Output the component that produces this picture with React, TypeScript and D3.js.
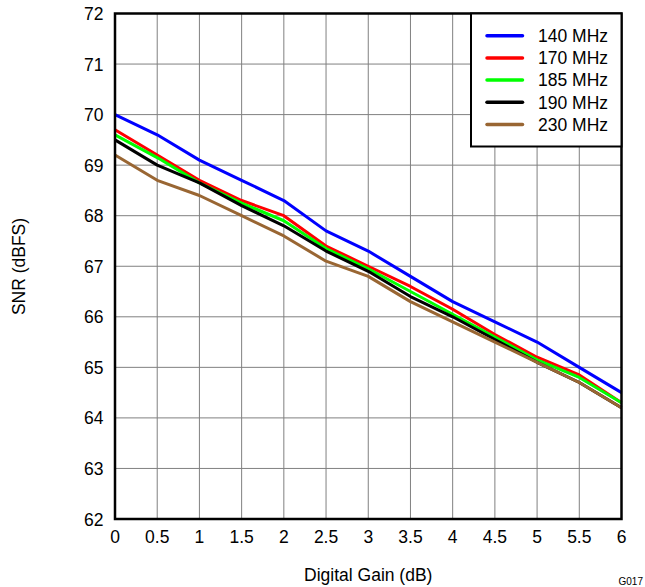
import React from "react";
import * as d3 from "d3";

const gains = [0, 0.5, 1, 1.5, 2, 2.5, 3, 3.5, 4, 4.5, 5, 5.5, 6];
const xTicks = [0, 0.5, 1, 1.5, 2, 2.5, 3, 3.5, 4, 4.5, 5, 5.5, 6];
const yTicks = [62, 63, 64, 65, 66, 67, 68, 69, 70, 71, 72];

const snr140 = [70.0, 69.6, 69.1, 68.7, 68.3, 67.7, 67.3, 66.8, 66.3, 65.9, 65.5, 65.0, 64.5];
const snr170 = [69.7, 69.2, 68.7, 68.3, 68.0, 67.4, 67.0, 66.6, 66.15, 65.65, 65.2, 64.85, 64.3];
const snr185 = [69.6, 69.15, 68.65, 68.25, 67.9, 67.35, 66.95, 66.5, 66.05, 65.6, 65.15, 64.8, 64.3];
const snr190 = [69.5, 69.0, 68.65, 68.2, 67.8, 67.3, 66.9, 66.4, 66.0, 65.55, 65.1, 64.7, 64.2];
const snr230 = [69.2, 68.7, 68.4, 68.0, 67.6, 67.1, 66.8, 66.3, 65.9, 65.5, 65.1, 64.7, 64.2];

const seriesNames = ["140 MHz", "170 MHz", "185 MHz", "190 MHz", "230 MHz"];
const seriesValues = [snr140, snr170, snr185, snr190, snr230];
const seriesColors = ["#0000FF", "#FF0000", "#00FF00", "#000000", "#996633"];

const W = 645;
const H = 587;
const L = 115;
const R = 621.5;
const T = 13.5;
const B = 519;
const FONT = "'Liberation Sans', Arial, sans-serif";
const FS = 17.5;

export default function App() {
  const x = d3.scaleLinear().domain([0, 6]).range([L, R]);
  const y = d3.scaleLinear().domain([62, 72]).range([B, T]);
  const line = d3
    .line<number>()
    .x((_, i) => x(gains[i]))
    .y((d) => y(d));

  const legX = 471;
  const legY = T;
  const legW = R - legX;
  const legH = 133;

  return (
    <svg
      width={W}
      height={H}
      style={{ position: "absolute", left: 0, top: 0, background: "#fff" }}
      fontFamily={FONT}
    >
      <rect x={0} y={0} width={W} height={H} fill="#fff" />
      {/* grid */}
      {xTicks.map((t) => (
        <line key={"gx" + t} x1={x(t)} x2={x(t)} y1={T} y2={B} stroke="#808080" strokeWidth={1} />
      ))}
      {yTicks.map((t) => (
        <line key={"gy" + t} x1={L} x2={R} y1={y(t)} y2={y(t)} stroke="#808080" strokeWidth={1} />
      ))}
      {/* series */}
      {seriesValues.map((vals, i) => (
        <path
          key={seriesNames[i]}
          d={line(vals) || ""}
          fill="none"
          stroke={seriesColors[i]}
          strokeWidth={3}
          strokeLinejoin="round"
        />
      ))}
      {/* frame */}
      <rect x={L} y={T} width={R - L} height={B - T} fill="none" stroke="#000" strokeWidth={2.5} />
      {/* legend */}
      <rect x={legX} y={legY} width={legW} height={legH} fill="#fff" stroke="#000" strokeWidth={2} />
      {seriesNames.map((n, i) => {
        const cy = 35.7 + i * 22.2;
        return (
          <g key={"leg" + n}>
            <line x1={487} x2={522.5} y1={cy} y2={cy} stroke={seriesColors[i]} strokeWidth={3.5} strokeLinecap="round" />
            <text x={538} y={cy + 6.3} fontSize={FS} fill="#000">
              {n}
            </text>
          </g>
        );
      })}
      {/* y tick labels */}
      {yTicks.map((t) => (
        <text key={"yl" + t} x={103.5} y={y(t) + 6.5} fontSize={FS} textAnchor="end" fill="#000">
          {t}
        </text>
      ))}
      {/* x tick labels */}
      {xTicks.map((t) => (
        <text key={"xl" + t} x={x(t)} y={543} fontSize={FS} textAnchor="middle" fill="#000">
          {t}
        </text>
      ))}
      <text x={(L + R) / 2} y={581} fontSize={FS} textAnchor="middle" fill="#000">
        Digital Gain (dB)
      </text>
      <text
        transform={`translate(25, 266.5) rotate(-90)`}
        fontSize={FS}
        textAnchor="middle"
        fill="#000"
      >
        SNR (dBFS)
      </text>
      <text x={643} y={585} fontSize={10} textAnchor="end" fill="#000">
        G017
      </text>
    </svg>
  );
}
